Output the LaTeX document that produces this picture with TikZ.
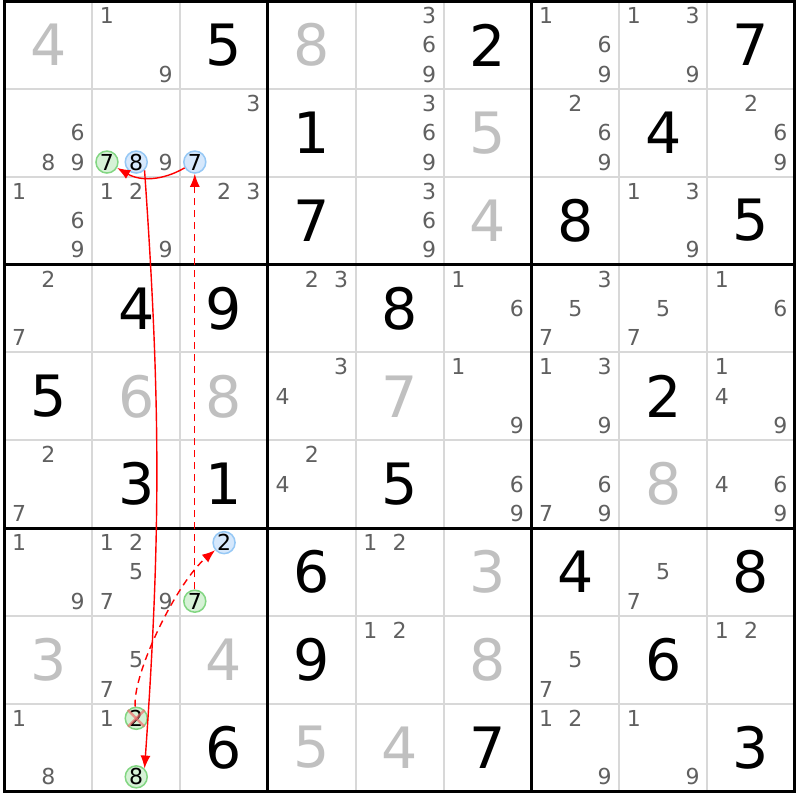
\documentclass[tikz,border=0pt]{standalone}
\usepackage{fontspec}
\setmainfont{DejaVu Sans}
\usetikzlibrary{arrows.meta}
\definecolor{cellline}{RGB}{216,216,216}
\definecolor{solvedgrey}{RGB}{192,192,192}
\definecolor{candgrey}{RGB}{96,96,96}
\definecolor{greenfill}{RGB}{214,242,214}
\definecolor{greenline}{RGB}{130,214,130}
\definecolor{bluefill}{RGB}{214,232,252}
\definecolor{blueline}{RGB}{150,200,245}
\definecolor{linkred}{RGB}{255,0,0}
\definecolor{crossred}{RGB}{240,110,110}
\tikzset{
  cellrule/.style={draw=cellline, line width=2pt},
  boxrule/.style={draw=black, line width=3pt},
  given/.style={font=\fontsize{57}{57}\selectfont, text=black, inner sep=0pt},
  solved/.style={given, text=solvedgrey},
  cand/.style={font=\fontsize{22}{22}\selectfont, text=candgrey, inner sep=0pt},
  ongreen/.style={cand, text=black, circle, minimum size=22pt, line width=1.5pt, draw=greenline, fill=greenfill},
  onblue/.style={cand, text=black, circle, minimum size=22pt, line width=1.5pt, draw=blueline, fill=bluefill},
  strong/.style={draw=linkred, line width=1.4pt, -{Latex[length=13pt,width=10pt]}},
  weak/.style={strong, dash pattern=on 7pt off 5pt},
  crossout/.style={draw=crossred, line width=2.5pt, opacity=0.7}
}
\begin{document}
\begin{tikzpicture}[x=87.83pt, y=87.83pt]
  \useasboundingbox (-0.0512,-0.0968) rectangle (9.0572,9.0117);
  \fill[white] (-0.0512,-0.0968) rectangle (9.0572,9.0117);
  % grid
  \foreach \i in {1,2,4,5,7,8} {
    \draw[cellrule] (\i,0) -- (\i,9);
    \draw[cellrule] (0,\i) -- (9,\i);
  }
  \foreach \i in {3,6} {
    \draw[boxrule] (\i,0) -- (\i,9);
    \draw[boxrule] (0,\i) -- (9,\i);
  }
  \draw[boxrule] (0,0) rectangle (9,9);
  % placed digits
  \foreach \r/\c/\d in {1/3/5, 1/6/2, 1/9/7, 2/4/1, 2/8/4, 3/4/7, 3/7/8, 3/9/5,
      4/2/4, 4/3/9, 4/5/8, 5/1/5, 5/8/2, 6/2/3, 6/3/1, 6/5/5,
      7/4/6, 7/7/4, 7/9/8, 8/4/9, 8/8/6, 9/3/6, 9/6/7, 9/9/3}
    \node[given] (g\r\c) at (\c-0.5, 9.5-\r) {\d};
  \foreach \r/\c/\d in {1/1/4, 1/4/8, 2/6/5, 3/6/4, 5/2/6, 5/3/8, 5/5/7,
      6/8/8, 7/6/3, 8/1/3, 8/3/4, 8/6/8, 9/4/5, 9/5/4}
    \node[solved] (g\r\c) at (\c-0.5, 9.5-\r) {\d};
  % candidates
  \foreach \r/\c/\l in {1/2/{1,9}, 1/5/{3,6,9}, 1/7/{1,6,9}, 1/8/{1,3,9},
      2/1/{6,8,9}, 2/2/{9}, 2/3/{3}, 2/5/{3,6,9}, 2/7/{2,6,9}, 2/9/{2,6,9},
      3/1/{1,6,9}, 3/2/{1,2,9}, 3/3/{2,3}, 3/5/{3,6,9}, 3/8/{1,3,9},
      4/1/{2,7}, 4/4/{2,3}, 4/6/{1,6}, 4/7/{3,5,7}, 4/8/{5,7}, 4/9/{1,6},
      5/4/{3,4}, 5/6/{1,9}, 5/7/{1,3,9}, 5/9/{1,4,9},
      6/1/{2,7}, 6/4/{2,4}, 6/6/{6,9}, 6/7/{6,7,9}, 6/9/{4,6,9},
      7/1/{1,9}, 7/2/{1,2,5,7,9}, 7/5/{1,2}, 7/8/{5,7},
      8/2/{5,7}, 8/5/{1,2}, 8/7/{5,7}, 8/9/{1,2},
      9/1/{1,8}, 9/2/{1}, 9/7/{1,2,9}, 9/8/{1,9}}
    \foreach \d in \l {
      \pgfmathsetmacro\cx{\c-1+(2*mod(\d-1,3)+1)/6}
      \pgfmathsetmacro\cy{10-\r-(2*div(\d-1,3)+1)/6}
      \node[cand] (c\r\c\d) at (\cx,\cy) {\d};
    }
  % marked candidates
  \foreach \r/\c/\d/\s in {2/2/7/ongreen, 2/2/8/onblue, 2/3/7/onblue,
      7/3/2/onblue, 7/3/7/ongreen, 9/2/2/ongreen, 9/2/8/ongreen} {
    \pgfmathsetmacro\cx{\c-1+(2*mod(\d-1,3)+1)/6}
    \pgfmathsetmacro\cy{10-\r-(2*div(\d-1,3)+1)/6}
    \node[\s] (c\r\c\d) at (\cx,\cy) {\d};
  }
  \draw[crossout] (c922.north west) -- (c922.south east);
  \draw[crossout] (c922.north east) -- (c922.south west);
  % links
  \draw[strong] (c237) to[bend left=30] (c227);
  \draw[strong] (c228.-45) to[bend left=4] (c928.45);
  \draw[weak] (c737) -- (c237);
  \draw[weak] (c922) to[out=95, in=220, out distance=33pt, in distance=50pt] (c732);
\end{tikzpicture}
\end{document}
